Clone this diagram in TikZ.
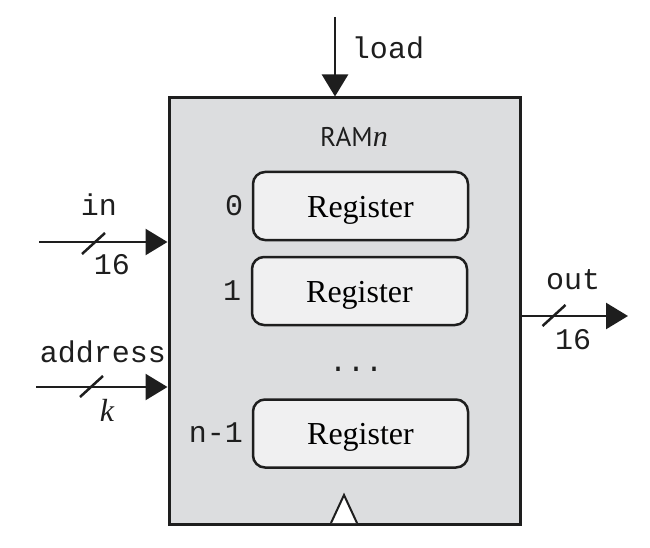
\documentclass[tikz,border=0pt]{standalone}
\usepackage{fontspec}
\setmainfont{Liberation Serif}
\newfontfamily\mono{Liberation Mono}
\newfontfamily\ramfont{PT Sans}
\usetikzlibrary{arrows.meta,calc}
\definecolor{boxgray}{RGB}{220,221,223}
\definecolor{reggray}{RGB}{240,240,241}
\definecolor{ink}{RGB}{30,30,30}
\tikzset{
  ramblock/.style={draw=ink, line width=3pt, fill=boxgray, minimum width=351pt, minimum height=426pt, inner sep=0pt},
  regbox/.style={draw=ink, line width=2.5pt, fill=reggray, rounded corners=12pt, minimum width=215pt, minimum height=68pt, inner sep=0pt, text height=22pt, text depth=0pt, font=\fontsize{32}{38}\selectfont},
  sig/.style={draw=ink, line width=2.5pt, -{Triangle[length=22pt,width=26pt]}},
  slashline/.style={draw=ink, line width=2.5pt},
  monolab/.style={inner sep=0pt, text=ink, font=\mono\fontsize{30}{36}\selectfont},
  itlab/.style={inner sep=0pt, text=ink, font=\itshape\fontsize{32}{38}\selectfont},
  clk/.style={draw=ink, line width=2pt, fill=white}
}
\begin{document}
\begin{tikzpicture}[x=1pt,y=-1pt]
\useasboundingbox (0,0) rectangle (650,548);
% main block
\node[ramblock] (ram) at (344.5,311) {};
\node[inner sep=0pt, text=ink] (title) at (354,137) {{\ramfont\fontsize{27}{32}\selectfont RAM}{\itshape\fontsize{30}{36}\selectfont n}};
% registers
\node[regbox] (r0) at (360.5,206) {Register};
\node[regbox] (r1) at (359.5,291) {Register};
\node[regbox] (rn) at (360.5,433.5) {Register};
\node[monolab] (d) at (356,369) {...};
\node[monolab] (l0) at (234,206) {0};
\node[monolab] (l1) at (232,291) {1};
\node[monolab, anchor=east] (ln) at (243,433) {n-1};
% clock triangle
\coordinate (cb) at (344,523);
\draw[clk] ([xshift=-13pt]cb) -- ([yshift=28pt]cb) -- ([xshift=13pt]cb);
% load
\coordinate (ldtop) at (335,17);
\draw[sig] (ldtop) -- (ldtop |- ram.north);
\node[monolab] (ldlab) at (388,47.5) {load};
% in
\coordinate (inL) at (39,242);
\draw[sig] (inL) -- (inL -| ram.west);
\coordinate (inS) at (93.5,243.5);
\draw[slashline] ([shift={(-11.5,10.5)}]inS) -- ([shift={(11.5,-10.5)}]inS);
\node[monolab] (inlab) at (99,205) {in};
\node[monolab] (inw) at (112,265) {16};
% address
\coordinate (adL) at (36,387);
\draw[sig] (adL) -- (adL -| ram.west);
\coordinate (adS) at (91.5,386.5);
\draw[slashline] ([shift={(-11.5,10.5)}]adS) -- ([shift={(11.5,-10.5)}]adS);
\node[monolab] (adlab) at (103,352) {address};
\node[itlab] (adw) at (107,410) {k};
% out
\coordinate (outR) at (628,316);
\draw[sig] (outR -| ram.east) -- (outR);
\coordinate (outS) at (554,315.5);
\draw[slashline] ([shift={(-11.5,10.5)}]outS) -- ([shift={(11.5,-10.5)}]outS);
\node[monolab] (outlab) at (573,280) {out};
\node[monolab] (outw) at (573,340) {16};
\end{tikzpicture}
\end{document}
